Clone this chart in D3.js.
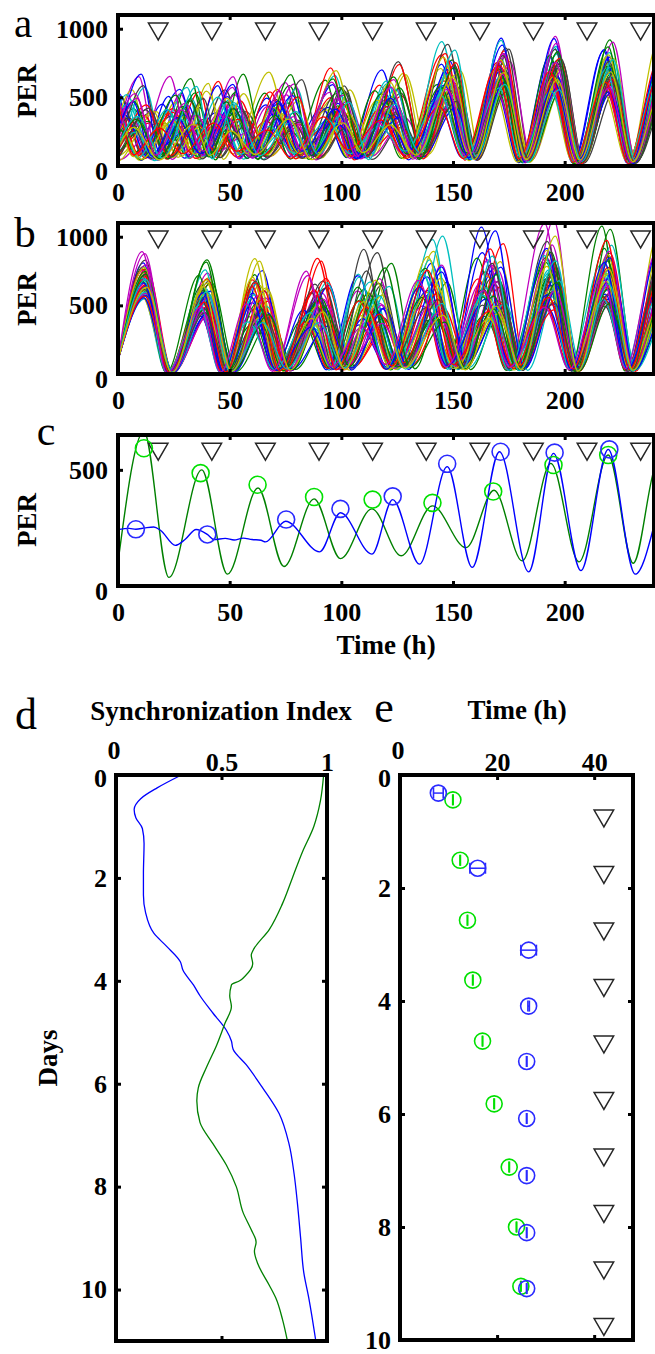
<!DOCTYPE html>
<html>
<head>
<meta charset="utf-8">
<script src="https://cdnjs.cloudflare.com/ajax/libs/d3/7.8.5/d3.min.js"></script>
<style>
  body { margin: 0; background: #fff; }
  svg text { font-family: "Liberation Serif", "Times New Roman", serif; }
</style>
</head>
<body>
<svg id="fig" width="655" height="1354"></svg>
<script>
// matlab default line colours
const colors = ["#0000ff", "#008000", "#ff0000", "#00bfbf", "#bf00bf", "#bfbf00", "#404040"];

const timeTicks = [0, 50, 100, 150, 200];
const perTicksAB = [0, 500, 1000];
const perTicksC = [0, 500];
const lightTimes = [18, 42, 66, 90, 114, 138, 162, 186, 210, 234];

// panel a: peak clusters (h), their half spread (h), mean peak, trough, amplitude variability
const cycCenterA = [-18, 6, 29, 50, 74, 98, 122, 148, 172, 196, 220, 244, 268];
const cycSpreadA = [12, 12, 12, 11, 10, 9, 8, 6, 4, 3, 3, 3, 3];
const cycAmpA = [450, 440, 430, 440, 450, 470, 500, 640, 710, 720, 700, 690, 690];
const cycVarA = [1, 1, 1, 1, 1, 1, 1, 0.8, 0.6, 0.6, 0.6, 0.6, 0.6];
const cycTroughA = [60, 70, 80, 80, 80, 80, 80, 70, 40, 30, 30, 30];
// per cell phase offset and amplitude factor
const offA = [-0.92, 0.35, 0.71, -0.18, 0.05, -0.63, 0.88, -0.41, 0.22, -0.77, 0.54, -0.05,
  0.97, -0.29, 0.13, -0.86, 0.62, -0.52, 0.41, -0.12, 0.79, -0.68, 0.28, -0.35,
  0.02, 0.91, -0.97, 0.47, -0.23, 0.66, -0.58, 0.18, -0.81, 0.83, -0.08, 0.38,
  -0.46, 0.57, -0.71, 0.09, -0.31, 0.74, -0.15, 0.31, -0.89, 0.51, -0.02, 0.25];
const facA = [0.82, 1.12, 0.64, 1.35, 0.95, 0.71, 1.05, 1.48, 0.58, 0.88, 1.22, 0.76,
  0.99, 1.30, 0.67, 0.90, 1.15, 0.60, 1.40, 0.84, 1.02, 0.73, 1.26, 0.93,
  0.62, 1.08, 0.79, 1.18, 0.69, 0.97, 1.33, 0.86, 0.74, 1.10, 0.56, 1.24,
  0.91, 0.80, 1.52, 0.66, 1.01, 0.87, 1.20, 0.70, 0.96, 1.06, 0.77, 1.14];

// panel b
const startB = 100;
const cycCenterB = [12, 39, 63, 89, 114, 141, 167, 194, 219, 244, 268];
const cycSpreadB = [1.5, 3, 6, 8, 9, 9, 7, 4, 3, 3, 3];
const cycAmpB = [680, 580, 540, 520, 560, 620, 660, 720, 720, 700, 700];
const cycVarB = [0.5, 0.7, 0.9, 1, 1, 1, 1, 0.9, 0.8, 0.8, 0.8];
const cycTroughB = [8, 15, 30, 45, 50, 50, 40, 30, 30, 30];
const offB = [0.12, -0.45, 0.78, -0.91, 0.33, -0.07, 0.56, -0.62, 0.95, -0.28, 0.04, -0.83,
  0.67, -0.39, 0.21, -0.72, 0.86, -0.15, 0.43, -0.55, 0.09, 0.73, -0.97, 0.29,
  -0.33, 0.61, -0.11, 0.48, -0.68, 0.17, -0.86, 0.92, -0.21, 0.37, -0.49, 0.81,
  -0.02, 0.26, -0.77, 0.58, -0.36, 0.14, -0.59, 0.69, -0.24, 0.41, -0.93, 0.52];
const facB = [1.05, 0.78, 1.26, 0.66, 0.94, 1.18, 0.72, 1.38, 0.87, 1.02, 0.61, 1.22,
  0.83, 1.10, 0.69, 1.30, 0.92, 0.75, 1.16, 0.64, 1.44, 0.89, 0.98, 1.08,
  0.70, 1.34, 0.80, 1.13, 0.63, 1.00, 1.24, 0.76, 1.58, 0.85, 0.96, 0.68,
  1.20, 0.90, 1.06, 0.73, 1.28, 0.81, 0.95, 1.14, 0.67, 1.03, 1.62, 0.86];

// panel c: two single cells, peaks and troughs
const cGreenT = [0, 11.6, 22.8, 37.5, 49, 62.7, 74.3, 87.8, 99.6, 113.7, 126.8, 140.8, 155.8, 168.4, 181, 193.8, 206.4, 219.5, 230.7, 240, 246];
const cGreenV = [101, 665, 37, 500, 51, 422, 84, 375, 118, 332, 130, 345, 165, 412, 108, 528, 104, 564, 98, 500, 620];
const cBlueT = [0, 5, 8, 12, 16, 19, 25.7, 30, 35, 40, 43, 48, 52, 56, 60, 64, 66, 75, 90.3, 99.6, 113.7, 123, 135, 147.4, 158.6, 170.8, 183.9, 195, 207.3, 219.5, 231.6, 240];
const cBlueV = [243, 248, 244, 250, 254, 240, 175, 200, 243, 222, 200, 205, 198, 206, 200, 197, 190, 279, 147, 315, 137, 372, 94, 514, 80, 578, 61, 571, 66, 588, 51, 260];
const cGreenPeakT = [11.6, 37, 62.5, 87.8, 114, 140.8, 168, 195, 219.5];
const cGreenPeakV = [593, 486, 436, 383, 372, 358, 407, 521, 564];
const cBluePeakT = [8, 40, 75.3, 99.6, 123, 147.4, 171.3, 195.5, 220];
const cBluePeakV = [244, 222, 286, 332, 386, 526, 578, 574, 588];

// panel d: synchronization index vs days
const dBlueDay = [0, 0.25, 0.46, 0.67, 0.83, 1.04, 1.33, 1.92, 2.33, 2.67, 3.08, 3.33, 3.63, 3.79, 4.08, 4.29, 4.63, 4.96, 5.17, 5.33, 5.63, 6.08, 6.58, 7.17, 7.75, 8.33, 9.0, 9.67, 10.17, 11.0];
const dBlueSI = [0.31, 0.195, 0.117, 0.086, 0.094, 0.125, 0.133, 0.13, 0.13, 0.14, 0.18, 0.24, 0.305, 0.317, 0.367, 0.398, 0.46, 0.523, 0.547, 0.555, 0.617, 0.695, 0.773, 0.82, 0.844, 0.86, 0.875, 0.89, 0.914, 0.947];
const dGreenDay = [0, 0.5, 1.0, 1.5, 2.0, 2.5, 3.0, 3.42, 3.5, 3.67, 3.92, 4.0, 4.08, 4.29, 4.5, 4.83, 5.25, 5.67, 6.08, 6.33, 6.75, 7.17, 7.58, 8.0, 8.5, 8.83, 9.08, 9.25, 9.5, 9.92, 10.17, 10.58, 11.0];
const dGreenSI = [0.984, 0.969, 0.9375, 0.883, 0.836, 0.789, 0.727, 0.648, 0.641, 0.648, 0.609, 0.586, 0.547, 0.539, 0.547, 0.516, 0.477, 0.43, 0.39, 0.383, 0.398, 0.46, 0.523, 0.57, 0.602, 0.64, 0.664, 0.656, 0.672, 0.727, 0.758, 0.789, 0.8125];
const siTicks = [0, 0.5, 1];
const dayTicksD = [0, 2, 4, 6, 8, 10];

// panel e: peak time within day, with error
const eBlueT = [7.9, 16.0, 26.5, 26.5, 26.1, 26.1, 26.1, 26.1, 26.1];
const eBlueDay = [0.32, 1.65, 3.1, 4.09, 5.07, 6.08, 7.09, 8.1, 9.09];
const eBlueErr = [1.0, 1.6, 1.6, 0.15, 0.05, 0.05, 0.05, 0.05, 0.05];
const eGreenT = [10.9, 12.4, 13.9, 15.0, 17.0, 19.4, 22.5, 24.0, 24.9];
const eGreenDay = [0.44, 1.51, 2.57, 3.63, 4.71, 5.82, 6.94, 8.0, 9.05];
const eGreenErr = [0.05, 0.05, 0.05, 0.05, 0.05, 0.05, 0.05, 0.05, 0.05];
const eLightT = 42;
const eLightDay = [0.72, 1.72, 2.72, 3.72, 4.72, 5.72, 6.72, 7.72, 8.72, 9.72];
const hourTicksE = [0, 20, 40];
const dayTicksE = [0, 2, 4, 6, 8, 10];

const GREEN_MARK = "#00e000";
const BLUE_MARK = "#2a2aff";
const FONT = "Liberation Serif, Times New Roman, serif";
const plain = d => String(d);

const svg = d3.select("#fig");

// ---- helpers ----
function styleAxis(g, show) {
  g.select(".domain").remove();
  g.attr("font-size", 26).attr("font-family", FONT).attr("font-weight", "bold");
  g.selectAll(".tick line").attr("stroke", "#000").attr("stroke-width", 3);
  g.selectAll(".tick text").attr("fill", "#000");
  if (!show) g.selectAll(".tick text").remove();
}

function box(x, y) {
  const [l, r] = x.range();
  const ys = y.range();
  svg.append("rect")
    .attr("x", l).attr("y", Math.min(...ys))
    .attr("width", r - l).attr("height", Math.abs(ys[1] - ys[0]))
    .attr("fill", "none").attr("stroke", "#000").attr("stroke-width", 4);
}

function cellPeaks(centers, spreads, amps, vars, troughs, off, fac, i, start) {
  const n = off.length;
  const peaks = centers.map((c, k) => [
    c + spreads[k] * (0.75 * off[i] + 0.25 * off[(i + 5 * k + 3) % n]),
    amps[k] * (1 + (fac[(i + 3 * k) % n] - 1) * vars[k])
  ]);
  const pts = start != null ? [[0, start]] : [];
  peaks.forEach((p, k) => {
    pts.push(p);
    const q = peaks[k + 1];
    if (q) pts.push([p[0] + 0.42 * (q[0] - p[0]), troughs[k] * fac[(i + 2 * k + 1) % n]]);
  });
  return pts;
}

const triangle = d3.symbol().type(d3.symbolTriangle).size(165);

function timePanel(id, top) {
  const x = d3.scaleLinear().domain([0, 240]).range([118, 654]);
  const y = d3.scaleLinear().domain(id === "clipC" ? [0, 650] : [0, 1100]).range([top + 151, top]);
  svg.append("clipPath").attr("id", id).append("rect")
    .attr("x", 118).attr("y", top).attr("width", 536).attr("height", 151);
  const plot = svg.append("g").attr("clip-path", `url(#${id})`);
  return { x, y, plot };
}

function timeAxes(p, yTicks) {
  const { x, y } = p;
  const [yb, yt] = y.range();
  svg.append("g").attr("transform", `translate(0,${yb})`)
    .call(d3.axisBottom(x).tickValues(timeTicks).tickFormat(plain).tickSize(-5).tickSizeOuter(0).tickPadding(17))
    .call(g => styleAxis(g, true));
  svg.append("g").attr("transform", `translate(0,${yt})`)
    .call(d3.axisTop(x).tickValues(timeTicks).tickSize(-5).tickSizeOuter(0))
    .call(g => styleAxis(g, false));
  svg.append("g").attr("transform", `translate(118,0)`)
    .call(d3.axisLeft(y).tickValues(yTicks).tickFormat(plain).tickSize(-5).tickSizeOuter(0).tickPadding(10))
    .call(g => styleAxis(g, true))
    .call(g => g.selectAll(".tick text").filter(d => d === 0).attr("dy", "0.5em"));
  box(x, y);
}

function lights(p, yVal) {
  p.plot.selectAll(null).data(lightTimes).join("path")
    .attr("d", triangle)
    .attr("transform", d => `translate(${p.x(d)},${p.y(yVal)}) rotate(180)`)
    .attr("fill", "none").attr("stroke", "#262626").attr("stroke-width", 1.5);
}

function cellTraces(p, centers, spreads, amps, vars, troughs, off, fac, start) {
  const line = d3.line().x(d => p.x(d[0])).y(d => p.y(d[1])).curve(d3.curveMonotoneX);
  p.plot.selectAll(null).data(off.map((o, i) => i)).join("path")
    .attr("d", i => line(cellPeaks(centers, spreads, amps, vars, troughs, off, fac, i, start)))
    .attr("fill", "none")
    .attr("stroke", i => colors[i % colors.length])
    .attr("stroke-width", 1.25);
}

function label(txt, x, y, size, weight, rot) {
  const t = svg.append("text").text(txt)
    .attr("font-size", size).attr("font-weight", weight || "normal")
    .attr("text-anchor", "middle").attr("fill", "#000");
  if (rot) t.attr("transform", `translate(${x},${y}) rotate(-90)`).attr("dy", "0.35em");
  else t.attr("x", x).attr("y", y);
  return t;
}

// ---- panel a ----
const pa = timePanel("clipA", 15);
cellTraces(pa, cycCenterA, cycSpreadA, cycAmpA, cycVarA, cycTroughA, offA, facA, null);
lights(pa, 1000);
timeAxes(pa, perTicksAB);
label("a", 23, 37, 41);
label("PER", 27, 91, 27, "bold", true);

// ---- panel b ----
const pb = timePanel("clipB", 223);
cellTraces(pb, cycCenterB, cycSpreadB, cycAmpB, cycVarB, cycTroughB, offB, facB, startB);
lights(pb, 1000);
timeAxes(pb, perTicksAB);
label("b", 25, 247, 43);
label("PER", 27, 299, 27, "bold", true);

// ---- panel c ----
const pc = timePanel("clipC", 435);
const lineC = d3.line().x(d => pc.x(d[0])).y(d => pc.y(d[1])).curve(d3.curveMonotoneX);
pc.plot.append("path").datum(cGreenT.map((t, i) => [t, cGreenV[i]]))
  .attr("d", lineC).attr("fill", "none").attr("stroke", "#008000").attr("stroke-width", 1.4);
pc.plot.append("path").datum(cBlueT.map((t, i) => [t, cBlueV[i]]))
  .attr("d", lineC).attr("fill", "none").attr("stroke", "#0000ff").attr("stroke-width", 1.4);
lights(pc, 590);
pc.plot.selectAll(null).data(cGreenPeakT).join("circle")
  .attr("cx", d => pc.x(d)).attr("cy", (d, i) => pc.y(cGreenPeakV[i])).attr("r", 8.5)
  .attr("fill", "none").attr("stroke", GREEN_MARK).attr("stroke-width", 1.6);
pc.plot.selectAll(null).data(cBluePeakT).join("circle")
  .attr("cx", d => pc.x(d)).attr("cy", (d, i) => pc.y(cBluePeakV[i])).attr("r", 8.5)
  .attr("fill", "none").attr("stroke", BLUE_MARK).attr("stroke-width", 1.6);
timeAxes(pc, perTicksC);
label("c", 46, 445, 42);
label("PER", 27, 520, 27, "bold", true);
label("Time (h)", 386, 654, 27, "bold");

// ---- panel d ----
const xd = d3.scaleLinear().domain([0, 1]).range([116, 327]);
const yd = d3.scaleLinear().domain([0, 11]).range([775, 1341]);
const lineD = d3.line().x(d => xd(d[0])).y(d => yd(d[1])).curve(d3.curveMonotoneY);
svg.append("path").datum(dBlueDay.map((v, i) => [dBlueSI[i], v]))
  .attr("d", lineD).attr("fill", "none").attr("stroke", "#0000ff").attr("stroke-width", 1.3);
svg.append("path").datum(dGreenDay.map((v, i) => [dGreenSI[i], v]))
  .attr("d", lineD).attr("fill", "none").attr("stroke", "#008000").attr("stroke-width", 1.3);

function verticalAxes(x, y, xTicks, yTicks) {
  const [l, r] = x.range();
  const [t, b] = y.range();
  svg.append("g").attr("transform", `translate(0,${t})`)
    .call(d3.axisTop(x).tickValues(xTicks).tickFormat(plain).tickSize(-5).tickSizeOuter(0).tickPadding(4))
    .call(g => styleAxis(g, true))
    .call(g => g.selectAll(".tick text").filter(d => d === 0).attr("dy", "-0.45em").attr("dx", "-0.1em"));
  svg.append("g").attr("transform", `translate(0,${b})`)
    .call(d3.axisBottom(x).tickValues(xTicks).tickSize(-5).tickSizeOuter(0))
    .call(g => styleAxis(g, false));
  svg.append("g").attr("transform", `translate(${l},0)`)
    .call(d3.axisLeft(y).tickValues(yTicks).tickFormat(plain).tickSize(-5).tickSizeOuter(0).tickPadding(9))
    .call(g => styleAxis(g, true))
    .call(g => g.selectAll(".tick text").filter(d => d === 0).attr("dy", "0.45em"));
  svg.append("g").attr("transform", `translate(${r},0)`)
    .call(d3.axisRight(y).tickValues(yTicks).tickSize(-5).tickSizeOuter(0))
    .call(g => styleAxis(g, false));
  box(x, y);
}
verticalAxes(xd, yd, siTicks, dayTicksD);
label("d", 26, 729, 44);
label("Synchronization Index", 221, 720, 27, "bold");
label("Days", 48, 1058, 27, "bold", true);

// ---- panel e ----
const xe = d3.scaleLinear().domain([0, 48]).range([400, 633]);
const ye = d3.scaleLinear().domain([0, 10]).range([775, 1340]);
svg.append("clipPath").attr("id", "clipE").append("rect")
  .attr("x", 400).attr("y", 775).attr("width", 233).attr("height", 565);
const pe = svg.append("g").attr("clip-path", "url(#clipE)");

function errMarks(ts, days, errs, color) {
  const g = pe.append("g").attr("stroke", color).attr("fill", "none");
  g.selectAll(null).data(ts).join("line")
    .attr("x1", (d, i) => xe(d - errs[i])).attr("x2", (d, i) => xe(d + errs[i]))
    .attr("y1", (d, i) => ye(days[i])).attr("y2", (d, i) => ye(days[i]))
    .attr("stroke-width", 1.5);
  [-1, 1].forEach(s => {
    g.selectAll(null).data(ts).join("line")
      .attr("x1", (d, i) => xe(d + s * errs[i])).attr("x2", (d, i) => xe(d + s * errs[i]))
      .attr("y1", (d, i) => ye(days[i]) - 5.5).attr("y2", (d, i) => ye(days[i]) + 5.5)
      .attr("stroke-width", 1.6);
  });
  g.selectAll(null).data(ts).join("circle")
    .attr("cx", d => xe(d)).attr("cy", (d, i) => ye(days[i])).attr("r", 8)
    .attr("stroke-width", 1.6);
}
errMarks(eGreenT, eGreenDay, eGreenErr, GREEN_MARK);
errMarks(eBlueT, eBlueDay, eBlueErr, BLUE_MARK);
pe.selectAll(null).data(eLightDay).join("path")
  .attr("d", triangle)
  .attr("transform", d => `translate(${xe(eLightT)},${ye(d)}) rotate(180)`)
  .attr("fill", "none").attr("stroke", "#262626").attr("stroke-width", 1.5);
verticalAxes(xe, ye, hourTicksE, dayTicksE);
label("e", 384, 722, 44);
label("Time (h)", 517, 719, 27, "bold");
</script>
</body>
</html>
